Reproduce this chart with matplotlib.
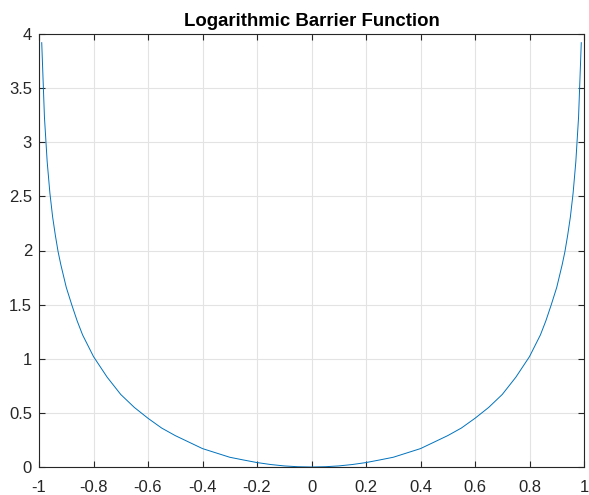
import matplotlib
matplotlib.use('Agg')
import matplotlib.pyplot as plt

x_vals = [-0.99, -0.98, -0.97, -0.96, -0.95, -0.94, -0.93, -0.92, -0.90, -0.88,
          -0.86, -0.84, -0.82, -0.80, -0.75, -0.70, -0.65, -0.60, -0.55, -0.50,
          -0.45, -0.40, -0.35, -0.30, -0.25, -0.20, -0.15, -0.10, -0.05, 0.0,
          0.05, 0.10, 0.15, 0.20, 0.25, 0.30, 0.35, 0.40, 0.45, 0.50,
          0.55, 0.60, 0.65, 0.70, 0.75, 0.80, 0.82, 0.84, 0.86, 0.88,
          0.90, 0.92, 0.93, 0.94, 0.95, 0.96, 0.97, 0.98, 0.99]
y_vals = [3.92, 3.23, 2.82, 2.53, 2.31, 2.14, 1.99, 1.87, 1.66, 1.50,
          1.35, 1.22, 1.12, 1.02, 0.83, 0.67, 0.55, 0.45, 0.36, 0.29,
          0.23, 0.17, 0.13, 0.09, 0.065, 0.041, 0.023, 0.010, 0.0025, 0.0,
          0.0025, 0.010, 0.023, 0.041, 0.065, 0.09, 0.13, 0.17, 0.23, 0.29,
          0.36, 0.45, 0.55, 0.67, 0.83, 1.02, 1.12, 1.22, 1.35, 1.50,
          1.66, 1.87, 1.99, 2.14, 2.31, 2.53, 2.82, 3.23, 3.92]

x_ticks = [-1, -0.8, -0.6, -0.4, -0.2, 0, 0.2, 0.4, 0.6, 0.8, 1]
x_labels = ['-1', '-0.8', '-0.6', '-0.4', '-0.2', '0', '0.2', '0.4', '0.6', '0.8', '1']
y_ticks = [0, 0.5, 1, 1.5, 2, 2.5, 3, 3.5, 4]
y_labels = ['0', '0.5', '1', '1.5', '2', '2.5', '3', '3.5', '4']

plt.rcParams['font.family'] = ['Liberation Sans', 'DejaVu Sans']

fig = plt.figure(figsize=(5.89, 4.95), dpi=100)
ax = fig.add_axes([39 / 589, 1 - 467 / 495, 545 / 589, 433 / 495])

ax.plot(x_vals, y_vals, color='#0072BD', linewidth=0.7)

ax.set_xlim(-1, 1)
ax.set_ylim(0, 4)
ax.set_xticks(x_ticks)
ax.set_xticklabels(x_labels)
ax.set_yticks(y_ticks)
ax.set_yticklabels(y_labels)
ax.tick_params(direction='in', top=True, right=True, length=4, width=0.8,
               colors='#262626', labelsize=12)
ax.tick_params(axis='x', pad=9)
ax.tick_params(axis='y', pad=5)
ax.grid(True, color='#e3e3e3', linewidth=0.8)
ax.set_axisbelow(True)
for s in ax.spines.values():
    s.set_color('#262626')
    s.set_linewidth(0.8)

ax.set_title('Logarithmic Barrier Function', fontsize=13.4, fontweight='bold', pad=6)

plt.savefig('out.png', dpi=100)
